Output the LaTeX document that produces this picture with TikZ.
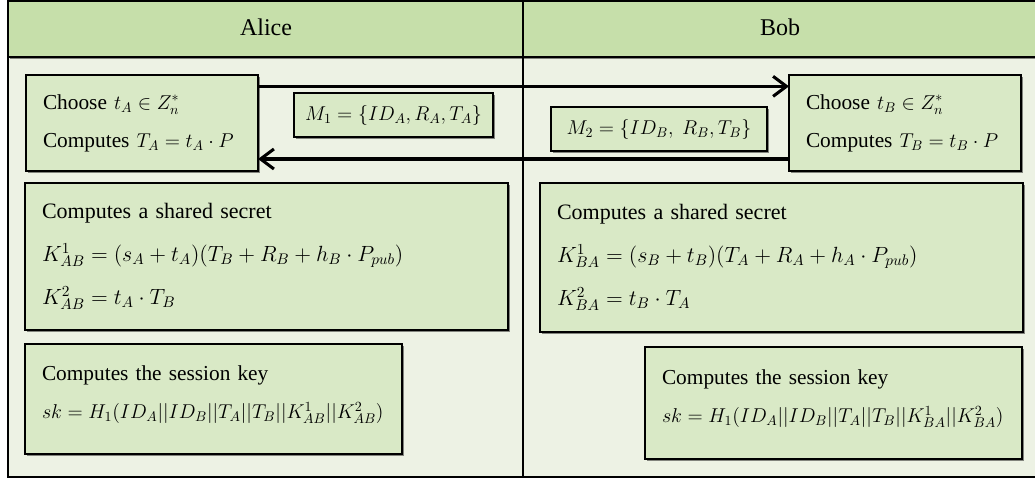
\RequirePackage{fix-cm}
\documentclass[tikz,border=0pt]{standalone}
\usepackage{fontspec}
\setmainfont{Liberation Serif}
\DeclareMathSizes{16}{15}{10.5}{8}
\DeclareMathSizes{16.5}{16.5}{11.5}{9}
\usetikzlibrary{shadows,arrows.meta}
\definecolor{headg}{RGB}{198,223,170}
\definecolor{boxg}{RGB}{217,233,198}
\definecolor{bodyg}{RGB}{237,242,228}
\begin{document}
\begin{tikzpicture}[x=0.75pt,y=-0.75pt,
  shad/.style={drop shadow={shadow xshift=1.4pt,shadow yshift=-1.4pt,opacity=0.45,fill=black}},
  head/.style={font=\fontsize{18}{20}\selectfont, inner sep=0pt},
  box/.style={draw=black, line width=1pt, fill=boxg, shad, anchor=north west, outer sep=0pt,
    inner xsep=12.75pt, inner ysep=0pt, align=left, font=\fontsize{16}{28.5}\selectfont},
  msg/.style={draw=black, line width=1pt, fill=boxg, shad, anchor=north west, outer sep=0pt,
    inner sep=0pt, align=center, font=\fontsize{16}{18}\selectfont},
  arr/.style={line width=2.3pt, -{Straight Barb[length=10pt,width=15pt]}}]
\useasboundingbox (0,0) rectangle (1035,478);
\clip (0,0) rectangle (1035,478);
% frame
\fill[bodyg] (8,57) rectangle (1040,477);
\fill[headg, shad] (8,1) rectangle (1040,57);
\draw[line width=1pt] (8,1) rectangle (1040,477);
\draw[line width=1.4pt] (8,57) -- (1040,57);
\draw[line width=1.3pt] (523,1) -- (523,477);
\node[head] (alice) at (266,27) {Alice};
\node[head] (bob) at (780,27) {Bob};
% Alice boxes
\node[box, minimum width=174pt, minimum height=72pt, text width=148.5pt] (A1) at (26,75)
  {\mbox{Choose $t_A \in Z_n^{*}$}\\ \mbox{Computes $T_A = t_A \cdot P$}};
\node[msg, minimum width=149.25pt, minimum height=33pt] (M1) at (294,93)
  {$M_1 = \{ID_A, R_A, T_A\}$};
\node[box, minimum width=362.25pt, minimum height=110.25pt, text width=336.75pt,
  font=\fontsize{16.5}{32}\selectfont] (A2) at (25,183)
  {Computes a shared secret\\
   \mbox{$K^1_{AB} = (s_A + t_A)\bigl(T_B + R_B + h_B \cdot P_{pub}\bigr)$}\\
   $K^2_{AB} = t_A \cdot T_B$};
\node[box, minimum width=282.75pt, minimum height=82.5pt, text width=257.25pt] (A3) at (25,344)
  {Computes the session key\\
   \mbox{$sk = H_1\bigl(ID_A\big||ID_B||T_A\big||T_B||K^1_{AB}||K^2_{AB}\bigr)$}\\[-18.5pt]\mbox{}};
% Bob boxes
\node[box, minimum width=174pt, minimum height=72pt, text width=148.5pt] (B1) at (789,75)
  {\mbox{Choose $t_B \in Z_n^{*}$}\\ \mbox{Computes $T_B = t_B \cdot P$}};
\node[msg, minimum width=162pt, minimum height=33pt] (M2) at (551,107)
  {$M_2 = \{ID_B,\ R_B, T_B\}$};
\node[box, minimum width=362.25pt, minimum height=111.75pt, text width=336.75pt,
  font=\fontsize{16.5}{32}\selectfont] (B2) at (540,183)
  {Computes a shared secret\\
   \mbox{$K^1_{BA} = (s_B + t_B)\bigl(T_A + R_A + h_A \cdot P_{pub}\bigr)$}\\
   $K^2_{BA} = t_B \cdot T_A$};
\node[box, minimum width=282.75pt, minimum height=84pt, text width=257.25pt] (B3) at (645,347)
  {Computes the session key\\
   \mbox{$sk = H_1\bigl(ID_A\big||ID_B||T_A\big||T_B||K^1_{BA}||K^2_{BA}\bigr)$}\\[-18.5pt]\mbox{}};
% messages
\draw[arr] ([yshift=-8.5pt]A1.north east) -- ([yshift=-8.5pt]B1.north west);
\draw[arr] ([yshift=9pt]B1.south west) -- ([yshift=9pt]A1.south east);
\end{tikzpicture}
\end{document}
